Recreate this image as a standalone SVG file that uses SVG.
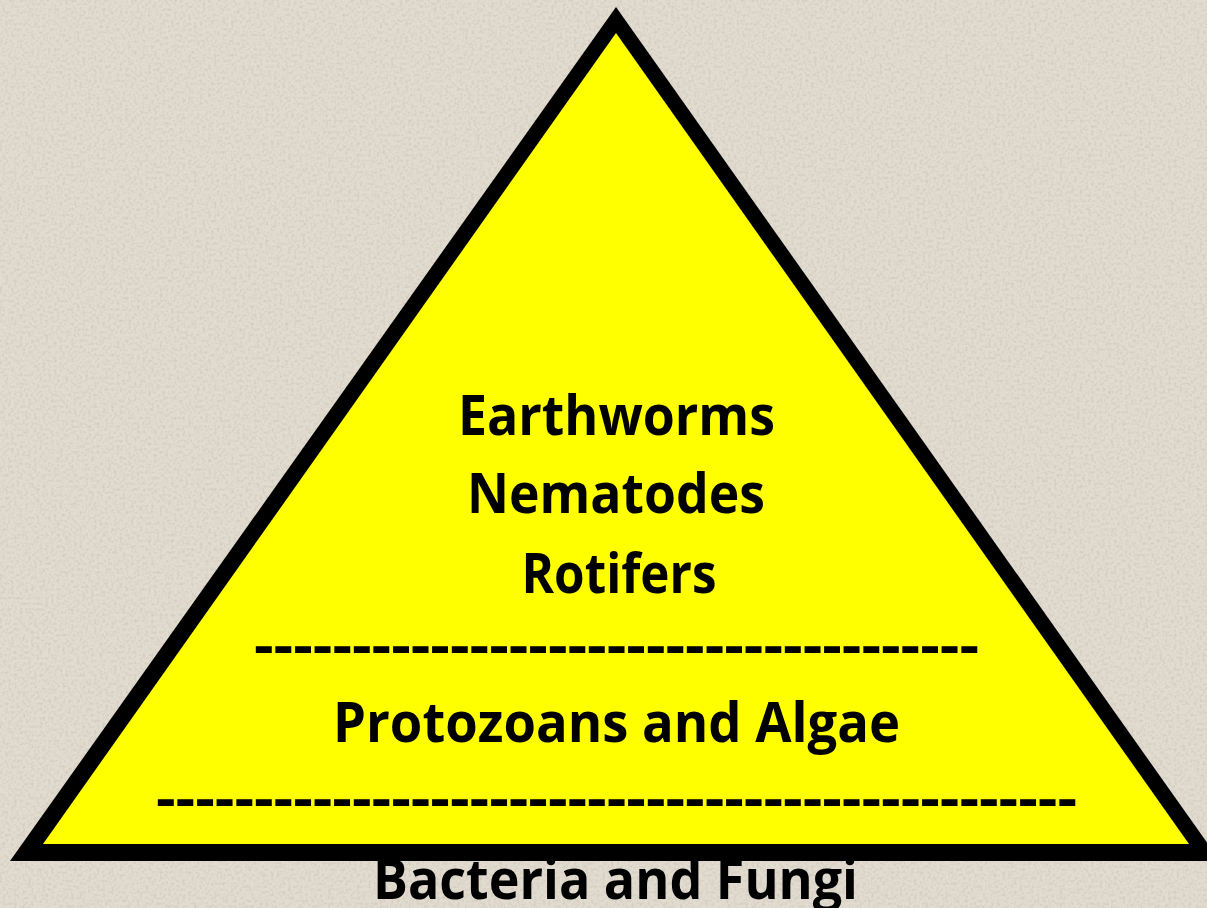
<svg xmlns="http://www.w3.org/2000/svg" width="1207" height="908" viewBox="0 0 1207 908">
  <defs>
    <filter id="grain" x="0" y="0" width="100%" height="100%">
      <feTurbulence type="fractalNoise" baseFrequency="0.35" numOctaves="2" seed="7" result="n"/>
      <feColorMatrix in="n" type="matrix" values="0 0 0 0 0.45  0 0 0 0 0.40  0 0 0 0 0.33  0 0 0 -2.2 1.25" result="spots"/>
      <feComposite in="spots" in2="SourceGraphic" operator="in"/>
    </filter>
    <style>
      .lbl { font-family: "Open Sans", "Liberation Sans", sans-serif; font-weight: 700; font-size: 56px; fill: #000000; text-anchor: middle; }
      .dash { font-family: "Open Sans", "Liberation Sans", sans-serif; font-weight: 700; font-size: 56px; fill: #000000; }
    </style>
  </defs>
  <g id="background">
    <rect x="0" y="0" width="1207" height="908" fill="#e2dbcf"/>
    <rect x="0" y="0" width="1207" height="908" fill="#e2dbcf" filter="url(#grain)" opacity="0.35"/>
  </g>
  <g id="pyramid">
    <polygon points="616,7 10,861 1220,861" fill="#000000"/>
    <polygon points="616,33 43,844 1189,844" fill="#ffff00"/>
  </g>
  <g id="top-level">
    <text class="lbl" x="616.5" y="435" textLength="317" lengthAdjust="spacingAndGlyphs">Earthworms</text>
    <text class="lbl" x="616" y="513" textLength="298" lengthAdjust="spacingAndGlyphs">Nematodes</text>
    <text class="lbl" x="619" y="593" textLength="195" lengthAdjust="spacingAndGlyphs">Rotifers</text>
  </g>
  <g id="divider-1">
    <text class="dash" x="254" y="665" textLength="725" lengthAdjust="spacingAndGlyphs">-------------------------------------</text>
  </g>
  <g id="middle-level">
    <text class="lbl" x="616.5" y="742" textLength="567" lengthAdjust="spacingAndGlyphs">Protozoans and Algae</text>
  </g>
  <g id="divider-2">
    <text class="dash" x="156" y="818" textLength="921" lengthAdjust="spacingAndGlyphs">-----------------------------------------------</text>
  </g>
  <g id="bottom-level">
    <text class="lbl" x="615.5" y="899" textLength="485" lengthAdjust="spacingAndGlyphs">Bacteria and Fungi</text>
  </g>
</svg>
